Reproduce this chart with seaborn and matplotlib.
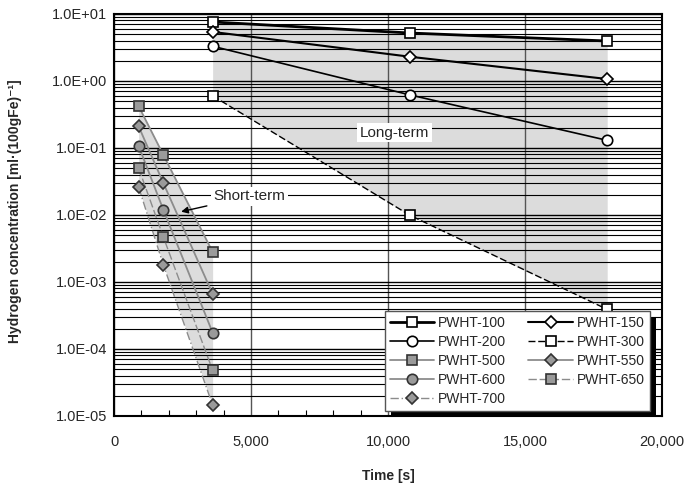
import numpy as np
import pandas as pd
import matplotlib
matplotlib.use("Agg")
import matplotlib.pyplot as plt
import matplotlib.ticker as mticker
from matplotlib.patches import Rectangle
import seaborn as sns

# data
t_long = [3600, 10800, 18000]
pwht_100 = [7.6, 5.2, 3.95]
pwht_150 = [5.4, 2.3, 1.07]
pwht_200 = [3.3, 0.62, 0.13]
pwht_300 = [0.6, 0.0099, 0.00039]

t_short = [900, 1800, 3600]
pwht_500 = [0.42, 0.079, 0.0028]
pwht_550 = [0.21, 0.030, 0.00066]
pwht_600 = [0.107, 0.0120, 0.000175]
pwht_650 = [0.050, 0.0047, 0.000048]
pwht_700 = [0.026, 0.0018, 0.0000145]

y_ticks = [1e-5, 1e-4, 1e-3, 1e-2, 1e-1, 1e0, 1e1]
x_ticks = [0, 5000, 10000, 15000, 20000]

sns.set_style("white")
plt.rcParams['font.family'] = ['Liberation Sans', 'DejaVu Sans']

fig = plt.figure(figsize=(6.88, 4.87), dpi=100)
ax = fig.add_axes([0.1657, 0.1458, 0.7965, 0.8255])
ax.set_yscale('log')

# shaded regions
ax.fill_between(t_long, pwht_300, pwht_100, color='#dcdcdc', lw=0, zorder=1)
ax.fill_between(t_short, pwht_700, pwht_500, color='#dcdcdc', lw=0, zorder=1)

white = dict(markerfacecolor='white', markeredgecolor='black', markeredgewidth=1.2)
grey = dict(markerfacecolor='#9a9a9a', markeredgecolor='#333333', markeredgewidth=1.2)

series = [
    ("PWHT-100", t_long, pwht_100, dict(color='black', lw=2.0, ls='-', marker='s', ms=7.2, **white)),
    ("PWHT-150", t_long, pwht_150, dict(color='black', lw=1.5, ls='-', marker='D', ms=6.5, **white)),
    ("PWHT-200", t_long, pwht_200, dict(color='black', lw=1.2, ls='-', marker='o', ms=7.5, **white)),
    ("PWHT-300", t_long, pwht_300, dict(color='black', lw=1.0, ls=(0, (5, 2)), marker='s', ms=7.2, **white)),
    ("PWHT-500", t_short, pwht_500, dict(color='#8c8c8c', lw=1.3, ls='-', marker='s', ms=7.2, **grey)),
    ("PWHT-550", t_short, pwht_550, dict(color='#8c8c8c', lw=1.3, ls='-', marker='D', ms=6.5, **grey)),
    ("PWHT-600", t_short, pwht_600, dict(color='#8c8c8c', lw=1.3, ls='-', marker='o', ms=7.5, **grey)),
    ("PWHT-650", t_short, pwht_650, dict(color='#8c8c8c', lw=1.0, ls=(0, (6, 2)), marker='s', ms=7.2, **grey)),
    ("PWHT-700", t_short, pwht_700, dict(color='#8c8c8c', lw=1.0, ls=(0, (6, 2, 1, 2)), marker='D', ms=6.5, **grey)),
]

handles = {}
for name, x, y, kw in series:
    df = pd.DataFrame({'t': x, 'c': y})
    sns.lineplot(data=df, x='t', y='c', ax=ax, label=name, zorder=4, **kw)
    handles[name] = ax.lines[-1]

ax.set_xlim(0, 20000)
ax.set_ylim(1e-5, 10)

# gridlines
ax.yaxis.set_major_locator(mticker.FixedLocator(y_ticks))
ax.yaxis.set_minor_locator(mticker.LogLocator(base=10, subs=np.arange(2, 10), numticks=20))
ax.yaxis.set_major_formatter(mticker.FuncFormatter(lambda v, p: f"{v:.1E}"))
ax.yaxis.set_minor_formatter(mticker.NullFormatter())
ax.xaxis.set_major_locator(mticker.FixedLocator(x_ticks))
ax.xaxis.set_minor_locator(mticker.MultipleLocator(1000))
ax.xaxis.set_major_formatter(mticker.FuncFormatter(lambda v, p: f"{v:,.0f}"))
ax.grid(which='major', axis='y', color='black', lw=1.0)
ax.grid(which='minor', axis='y', color='black', lw=0.8)
ax.grid(which='major', axis='x', color='#555555', lw=1.0)
ax.set_axisbelow(False)
for l in ax.get_ygridlines() + ax.get_xgridlines():
    l.set_zorder(2)

ax.tick_params(axis='x', which='minor', direction='in', length=4, width=0.8, color='black', bottom=True, top=False)
ax.tick_params(axis='x', which='major', direction='in', length=0, labelsize=10.5, pad=14)
ax.tick_params(axis='y', which='both', length=0, labelsize=10.5, pad=5)

for s in ax.spines.values():
    s.set_color('black')
    s.set_linewidth(1.5)
    s.set_zorder(6)

ax.set_xlabel("Time [s]", fontsize=10, fontweight='bold', labelpad=14)
ax.set_ylabel("Hydrogen concentration [ml·(100gFe)⁻¹]", fontsize=10, fontweight='bold')
ax.yaxis.set_label_coords(-0.168, 0.51)

ax.text(10250, 0.17, "Long-term", fontsize=11, ha='center', va='center', zorder=5,
        bbox=dict(facecolor='white', edgecolor='none', pad=2))
ax.annotate("Short-term", xy=(2450, 0.0112), xytext=(4950, 0.019), fontsize=11, ha='center', va='center',
            zorder=5, bbox=dict(facecolor='white', edgecolor='none', pad=2),
            arrowprops=dict(arrowstyle='-|>', color='black', lw=1.0, mutation_scale=10, shrinkA=3, shrinkB=0))

order = ["PWHT-100", "PWHT-200", "PWHT-500", "PWHT-600", "PWHT-700",
         "PWHT-150", "PWHT-300", "PWHT-550", "PWHT-650"]
leg = ax.legend([handles[n] for n in order], order, ncol=2, loc='lower right',
                bbox_to_anchor=(0.978, 0.012), borderaxespad=0, fontsize=10, frameon=True,
                fancybox=False, edgecolor='#555555', framealpha=1, borderpad=0.35, labelspacing=0.36,
                handlelength=3.2, handletextpad=0.3, columnspacing=1.6)
leg.get_frame().set_linewidth(1.0)
leg.set_zorder(7)

# offset black shadow behind the legend box
fig.canvas.draw()
bb = leg.get_window_extent().transformed(ax.transAxes.inverted())
px = ax.transAxes.inverted().transform((6, 6)) - ax.transAxes.inverted().transform((0, 0))
ax.add_patch(Rectangle((bb.x0 + px[0], bb.y0 - px[1]), bb.width, bb.height, transform=ax.transAxes,
                       facecolor='black', edgecolor='none', zorder=6.5, clip_on=False))

fig.savefig("out.png", dpi=100)
